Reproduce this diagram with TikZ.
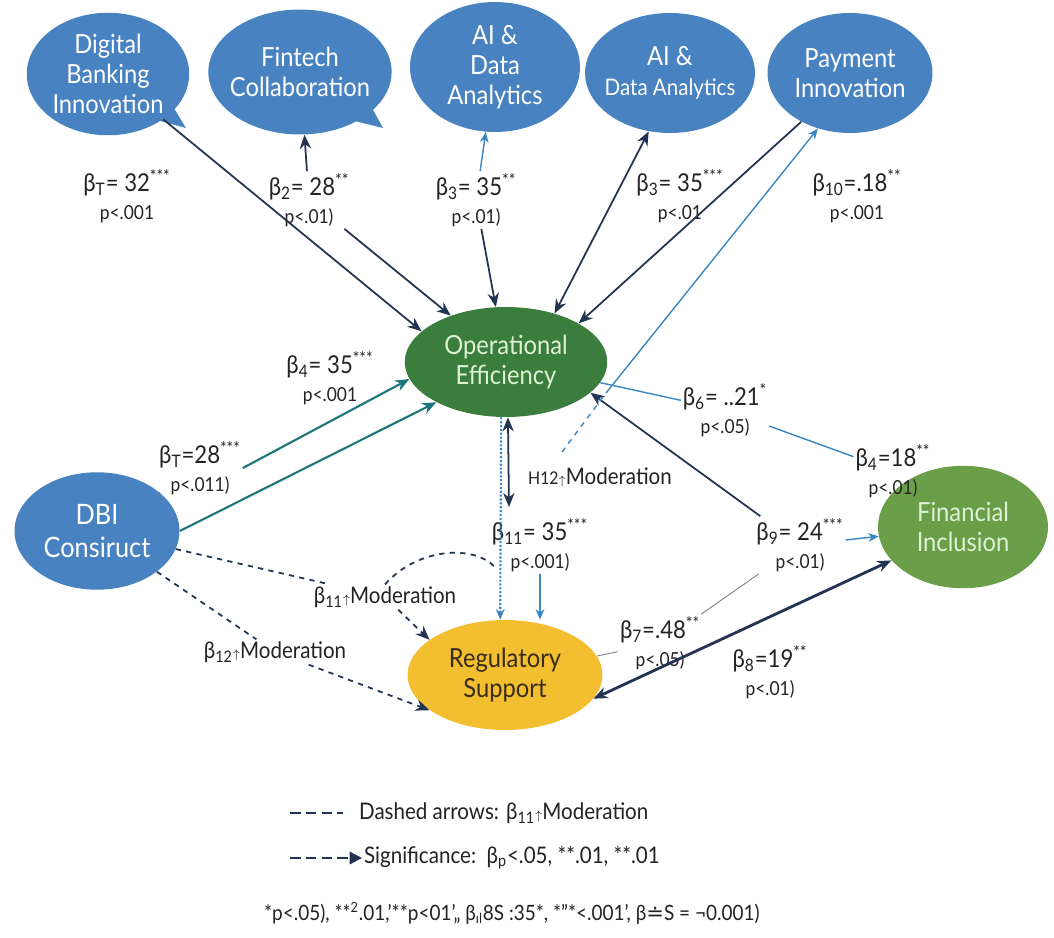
\documentclass[tikz,border=0pt]{standalone}
\usepackage{fontspec}
\setmainfont{Lato}[FakeStretch=0.9]
\newfontfamily\dejavu{DejaVu Sans}
\usepackage{tikz}
\usetikzlibrary{arrows.meta,shapes.geometric,shapes.callouts}
\definecolor{nodeblue}{RGB}{72,130,192}
\definecolor{oegreen}{RGB}{58,125,60}
\definecolor{oetext}{RGB}{222,242,212}
\definecolor{figreen}{RGB}{106,158,72}
\definecolor{rsyellow}{RGB}{243,190,48}
\definecolor{rstext}{RGB}{55,45,25}
\definecolor{navyc}{RGB}{35,52,82}
\definecolor{tealc}{RGB}{28,118,128}
\definecolor{lblue}{RGB}{58,135,195}
\definecolor{labtext}{RGB}{35,35,35}
\newcommand{\pval}[1]{{\fontsize{11}{13}\selectfont #1}}

\begin{document}
\begin{tikzpicture}[x=0.02cm, y=-0.02cm, >={Stealth[length=8pt,width=6.5pt]},
  bubble/.style={ellipse, fill=nodeblue, text=white, inner sep=-3pt, align=center, font=\fontsize{15}{17}\selectfont},
  callbubble/.style={bubble, ellipse callout},
  coef/.style={align=center, text=labtext, inner sep=1pt, font=\fontsize{14}{16}\selectfont},
  modlabel/.style={text=labtext, inner sep=1pt, font=\fontsize{13}{15}\selectfont},
  legend/.style={anchor=west, text=labtext, inner sep=1pt, font=\fontsize{13}{15}\selectfont},
  navyline/.style={color=navyc, line width=1pt},
  tealline/.style={color=tealc, line width=1.2pt},
  blueline/.style={color=lblue, line width=0.8pt, >={Stealth[length=6pt,width=5pt]}},
  thinline/.style={color=gray, line width=0.5pt}]
  \path[use as bounding box, fill=white] (0,0) rectangle (1054,937);

  \node[callbubble, minimum width=3.25cm, minimum height=2.45cm, callout absolute pointer={(186,128)}] (dbinno) at (108,74) {Digital\\Banking\\Innovation};
  \node[callbubble, minimum width=3.3cm, minimum height=2.5cm, callout absolute pointer={(383,128)}] (fintech) at (300,72) {Fintech\\Collaboration};
  \node[bubble, minimum width=3.4cm, minimum height=2.6cm] (aida) at (495,67) {AI \&\\Data\\Analytics};
  \node[bubble, minimum width=3.2cm, minimum height=2.4cm] (aidb) at (670,73) {AI \&\\{\fontsize{13}{16}\selectfont Data Analytics}};
  \node[bubble, minimum width=3.3cm, minimum height=2.4cm] (payinno) at (850,73) {Payment\\Innovation};
  \node[bubble, fill=oegreen, text=oetext, minimum width=4.05cm, minimum height=2.2cm] (opeff) at (506,362) {Operational\\Efficiency};
  \node[bubble, minimum width=3.3cm, minimum height=2.35cm, font=\fontsize{16}{19}\selectfont] (dbi) at (97,531) {DBI\\Consiruct};
  \node[bubble, fill=rsyellow, text=rstext, minimum width=3.9cm, minimum height=2.2cm] (regsup) at (505,675) {Regulatory\\Support};
  \node[bubble, fill=figreen, text=oetext, minimum width=3.4cm, minimum height=2.45cm] (fininc) at (963,527) {Financial\\Inclusion};

  \node[coef] (lb1) at (127,196) {β\textsubscript{T}= 32\textsuperscript{***}\\\pval{p<.001}};
  \node[coef] (lb2) at (309,200) {β\textsubscript{2}= 28\textsuperscript{**}\\\pval{p<.01)}};
  \node[coef] (lb3) at (476,200) {β\textsubscript{3}= 35\textsuperscript{**}\\\pval{p<.01)}};
  \node[coef] (lb3b) at (680,196) {β\textsubscript{3}= 35\textsuperscript{***}\\\pval{p<.01}};
  \node[coef] (lb10) at (857,196) {β\textsubscript{10}=.18\textsuperscript{**}\\\pval{p<.001}};
  \node[coef] (lb4) at (330,378) {β\textsubscript{4}= 35\textsuperscript{***}\\\pval{p<.001}};
  \node[coef] (lbT) at (200,468) {β\textsubscript{T}=28\textsuperscript{***}\\\pval{p<.011)}};
  \node[coef] (lb6) at (725,410) {β\textsubscript{6}= ..21\textsuperscript{*}\\\pval{p<.05)}};
  \node[coef] (lb4b) at (893,471) {β\textsubscript{4}=18\textsuperscript{**}\\\pval{p<.01)}};
  \node[coef] (lb11) at (540,545) {β\textsubscript{11}= 35\textsuperscript{***}\\\pval{p<.001)}};
  \node[coef] (lb9) at (800,545) {β\textsubscript{9}= 24\textsuperscript{***}\\\pval{p<.01)}};
  \node[coef] (lb7) at (660,643) {β\textsubscript{7}=.48\textsuperscript{**}\\\pval{p<.05)}};
  \node[coef] (lb8) at (770,672) {β\textsubscript{8}=19\textsuperscript{**}\\\pval{p<.01)}};
  \node[modlabel] (mod11) at (385,597) {β\textsubscript{11}{\scriptsize$\uparrow$}Moderation};
  \node[modlabel] (mod12) at (275,652) {β\textsubscript{12}{\scriptsize$\uparrow$}Moderation};
  \node[modlabel] (h12) at (600,477) {{\fontsize{10}{10}\selectfont H12}{\scriptsize$\uparrow$}Moderation};

  \coordinate (h12foot) at (562,452);
  \coordinate (h12bend) at (606,393);
  \coordinate (oefoot) at (509,507);
  \coordinate (modjoin) at (497,570);

  \path[navyline, ->]
    (dbinno) edge (opeff.160)
    (lb2) edge (opeff.140)
    (lb3) edge (opeff)
    (payinno.225) edge (opeff.28)
    (lb9) edge (opeff.340)
    (lb2) edge (fintech)
    (aidb.250) edge[<->] (opeff.45)
    (opeff.272) edge[<->] (oefoot);
  \path[blueline, ->]
    (lb3) edge (aida)
    (lb9) edge (fininc)
    (lb11.south) edge (lb11.south |- regsup.north)
    (opeff.265) edge[densely dotted, line width=1.2pt] (regsup.95)
    (h12bend) edge (payinno.240);
  \path[blueline]
    (h12foot) edge[dashed] (h12bend)
    (opeff) edge (lb6)
    (lb6) edge (lb4b);
  \path[tealline, ->]
    (dbi.east) edge (opeff.210)
    (lbT.east) edge (opeff.190);
  \path[thinline]
    (dbi) edge (lbT)
    (regsup) edge (lb7)
    (lb7) edge (lb9);
  \path[navyline, dashed, ->]
    (mod11) edge (regsup.155)
    (mod12) edge (regsup.205);
  \path[navyline, dashed]
    (dbi) edge (mod11)
    (dbi) edge (mod12);
  \draw[navyline, dashed] (mod11.north) .. controls (420,545) and (480,545) .. (modjoin);
  \draw[navyline, <->, line width=1.6pt] (regsup.345) -- (fininc.205);

  \node[legend] (legtxt1) at (357,813) {Dashed arrows: β\textsubscript{11}{\scriptsize$\uparrow$}Moderation};
  \node[legend] (legtxt2) at (362,858) {Significance:\ \ β\textsubscript{p}<.05, **.01, **.01};
  \node[legend, font=\fontsize{12}{14}\selectfont] (legnote) at (262,913) {*p<.05), **\textsuperscript{2}.01,'**p<01',, β\textsubscript{ıl}8S :35*, *''*<.001', β{\dejavu ≐}S = ¬0.001)};
  \coordinate (leg1a) at (290,813);
  \coordinate (leg1b) at (343,813);
  \coordinate (leg2a) at (290,858);
  \draw[navyline, line width=1.3pt, dash pattern=on 6pt off 3pt] (leg1a) -- (leg1b);
  \draw[navyline, line width=1.3pt, dash pattern=on 6pt off 3pt, -{Triangle[length=7pt,width=7pt]}] (leg2a) -- (legtxt2.west);
\end{tikzpicture}
\end{document}
